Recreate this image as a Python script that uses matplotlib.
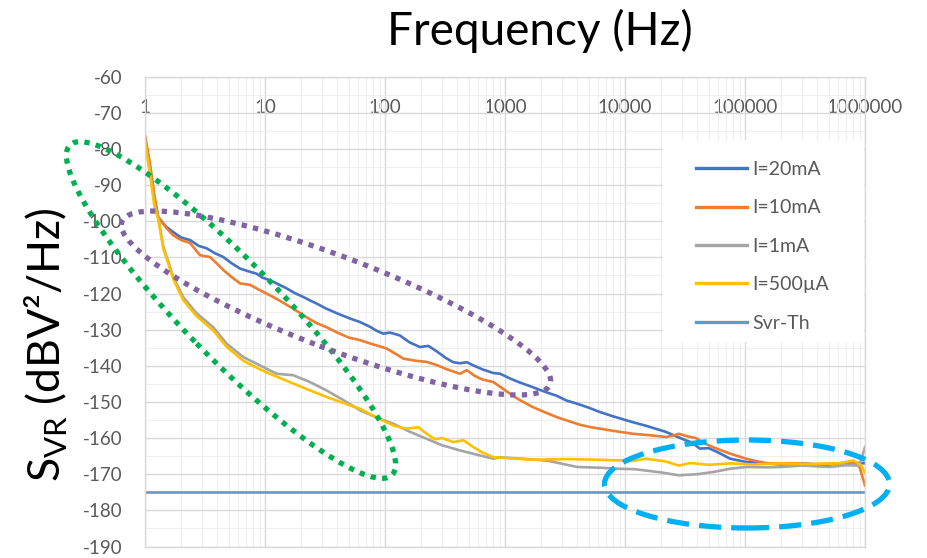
import matplotlib
matplotlib.use("Agg")
import matplotlib.pyplot as plt
from matplotlib.patches import Ellipse, Rectangle
from matplotlib.ticker import FixedLocator, NullFormatter
import numpy as np

plt.rcParams['font.family'] = ['Lato', 'DejaVu Sans']
plt.rcParams['mathtext.fontset'] = 'custom'
plt.rcParams['mathtext.rm'] = 'Lato'
plt.rcParams['axes.unicode_minus'] = False

# --- data ---
f_20ma = [1.0, 1.1, 1.2, 1.29, 1.5, 1.72, 2.0, 2.37, 2.8, 3.27, 3.8, 4.5, 5.2, 6.2, 7.2, 8.5,
          9.5, 11, 12.5, 15, 18, 21, 23.7, 27, 32.5, 40, 50, 62, 75, 85, 97, 110, 133, 160,
          195, 230, 270, 320, 370, 420, 480, 545, 650, 800, 912, 1100, 1300, 1700, 2200,
          2700, 3250, 4000, 5000, 6190, 8000, 11600, 15000, 22000, 28000, 32000, 36000,
          42000, 50000, 60000, 75000, 102000, 140000, 200000, 300000, 450000, 600000,
          800000, 1000000]
s_20ma = [-77, -85, -94, -99, -101.5, -103, -104.5, -105.2, -106.8, -107.5, -108.8, -109.9,
          -111.5, -113.1, -113.8, -114.5, -115.6, -116.3, -117.2, -118.5, -120.0, -121.0,
          -121.9, -122.8, -124.2, -125.5, -126.8, -127.9, -129.2, -130.3, -131.1, -130.8,
          -131.6, -133.5, -134.8, -134.5, -136.0, -137.8, -139.0, -139.3, -139.0, -139.9,
          -141.0, -142.0, -142.2, -143.5, -144.5, -145.9, -147.3, -148.3, -149.6, -150.5,
          -151.6, -152.8, -154.0, -155.6, -156.6, -158.3, -159.8, -160.6, -161.2, -162.9,
          -162.8, -164.0, -165.7, -166.6, -166.9, -167.3, -167.0, -167.5, -167.0, -166.8,
          -167.0]

f_10ma = [1.0, 1.1, 1.2, 1.29, 1.5, 1.72, 2.0, 2.37, 2.87, 3.48, 4.0, 4.5, 5.3, 6.2, 7.5,
          9.1, 11, 13, 17.2, 22, 27, 32.5, 40, 50, 62, 75, 90, 103, 120, 142, 180, 222,
          270, 330, 421, 480, 560, 650, 800, 1100, 1300, 1700, 2200, 2700, 3250, 4200,
          5200, 6190, 8000, 11600, 16000, 22000, 26000, 28000, 33000, 39000, 45000, 54000,
          75000, 102000, 130000, 160000, 250000, 400000, 600000, 800000, 900000, 1000000]
s_10ma = [-76.2, -84, -93, -98.8, -101.8, -103.9, -105.2, -106.0, -109.4, -109.9, -111.8,
          -113.5, -115.5, -117.2, -117.6, -119.1, -120.5, -121.8, -124.2, -126.5, -128.2,
          -129.3, -130.8, -132.2, -132.9, -133.8, -134.6, -135.2, -136.5, -138.0, -138.6,
          -138.9, -139.8, -141.0, -142.2, -141.2, -142.8, -143.8, -144.5, -147.7, -149.3,
          -151.4, -153.0, -154.2, -155.1, -156.3, -157.0, -157.4, -158.0, -158.8, -159.2,
          -159.7, -159.2, -158.8, -159.5, -160.0, -161.3, -162.5, -164.3, -165.7, -166.5,
          -167.1, -167.0, -167.2, -167.0, -166.8, -168.0, -173.1]

f_1ma = [1.0, 1.1, 1.2, 1.29, 1.42, 1.72, 2.08, 2.7, 3.7, 4.8, 6.6, 9.1, 12.5, 17.2, 23.7,
         32.5, 45, 62, 85, 117, 160, 222, 300, 421, 600, 800, 912, 1700, 2300, 4000, 6190,
         9000, 12000, 20000, 28000, 40000, 54000, 75000, 102000, 150000, 200000, 300000,
         500000, 700000, 900000, 1000000]
s_1ma = [-77.5, -86, -95, -99, -107, -115.4, -121, -125.5, -129.3, -133.9, -137.6, -139.9,
         -142.2, -142.6, -144.5, -146.8, -149.5, -152.3, -154.3, -156.0, -158.2, -160.2,
         -162.0, -163.4, -164.7, -165.7, -165.3, -165.9, -166.3, -168.0, -168.2, -168.5,
         -168.6, -169.5, -170.3, -170.0, -169.4, -168.5, -168.0, -168.1, -168.0, -167.6,
         -168.0, -167.5, -167.6, -162.5]

f_500ua = [1.0, 1.1, 1.2, 1.29, 1.42, 1.72, 2.08, 2.7, 3.7, 4.8, 6.6, 9.1, 12.5, 17.2, 23.7,
           32.5, 45, 62, 85, 117, 150, 190, 222, 260, 300, 370, 450, 545, 650, 800, 1100,
           1700, 3250, 6190, 11600, 15000, 22000, 28000, 35000, 50000, 75000, 120000,
           200000, 350000, 600000, 800000, 930000, 1000000]
s_500ua = [-78, -87, -96, -99.5, -107.5, -116, -121.8, -126.3, -130.2, -134.8, -138.6, -141.0,
           -143.0, -144.9, -146.8, -148.6, -150.3, -151.9, -154.3, -156.5, -157.4, -157.0,
           -158.8, -160.3, -160.0, -161.1, -160.6, -162.5, -164.0, -165.3, -165.6, -166.0,
           -165.8, -166.0, -166.3, -165.7, -166.5, -167.6, -166.9, -167.4, -167.0, -167.3,
           -167.0, -167.2, -167.0, -166.2, -167.6, -169.6]

f_th = [1, 1000000]
s_th = [-175, -175]

labels = ['I=20mA', 'I=10mA', 'I=1mA', 'I=500µA', 'Svr-Th']
colors = ['#4472C4', '#ED7D31', '#A5A5A5', '#FFC000', '#5B9BD5']

y_ticks = list(range(-190, -59, 10))
x_ticks = [1, 10, 100, 1000, 10000, 100000, 1000000]
x_ticklabels = ['1', '10', '100', '1000', '10000', '100000', '1000000']

# annotation outlines, in figure pixels: centre x, centre y (from top), width, height, angle, colour, style
marks = [
    (231, 310, 461, 96, -45.7, '#00B050', (0, (1, 1.2))),
    (336, 303, 458, 92, -20.8, '#8064A2', (0, (1, 1.2))),
    (747, 484, 285, 88, 0, '#00B0F0', (0, (4.2, 1.9))),
]

W, H = 928, 558
fig = plt.figure(figsize=(W / 100, H / 100), dpi=100)
ax = fig.add_axes([145 / W, 1 - 546.5 / H, 720 / W, (546.5 - 76.7) / H])

series = [(f_20ma, s_20ma), (f_10ma, s_10ma), (f_1ma, s_1ma), (f_500ua, s_500ua), (f_th, s_th)]
for (f, s), lab, c in zip(series, labels, colors):
    ax.plot(f, s, color=c, lw=1.9, label=lab, solid_joinstyle='round')

ax.set_xscale('log')
ax.set_xlim(1, 1e6)
ax.set_ylim(-190, -60)
ax.set_yticks(y_ticks)
ax.xaxis.set_major_locator(FixedLocator(x_ticks))
ax.set_xticklabels(x_ticklabels)
ax.xaxis.set_minor_formatter(NullFormatter())
ax.yaxis.set_minor_locator(FixedLocator(np.arange(-185, -60, 10)))

ax.grid(True, which='major', color='#d9d9d9', lw=1.0)
ax.grid(True, which='minor', color='#efefef', lw=0.8)
ax.set_axisbelow(True)
for sp in ax.spines.values():
    sp.set_color('#d9d9d9')
    sp.set_linewidth(1.0)

ax.tick_params(axis='both', which='both', length=0)
ax.tick_params(axis='y', labelsize=13.5, labelcolor='#595959', pad=16)
ax.tick_params(axis='x', labelsize=13.5, labelcolor='#595959', labeltop=True,
               labelbottom=False, pad=-28)

# white area behind the legend (hides the gridlines there)
ax.add_patch(Rectangle((663 / 100, (H - 342) / 100), 201 / 100, 202 / 100,
                       transform=fig.dpi_scale_trans, facecolor='white',
                       edgecolor='none', zorder=1.5))

leg = ax.legend(loc='upper left', bbox_to_anchor=(696 / W, 1 - 161 / H),
                bbox_transform=fig.transFigure, frameon=False, fontsize=14,
                handlelength=2.6, handletextpad=0.28, labelspacing=1.1,
                borderpad=0, borderaxespad=0)
for t in leg.get_texts():
    t.set_color('#595959')
for hl in leg.get_lines():
    hl.set_linewidth(2.4)

for cx, cy, w, h, ang, col, ls in marks:
    e = Ellipse((cx / 100, (H - cy) / 100), w / 100, h / 100, angle=ang,
                transform=fig.dpi_scale_trans, fill=False, edgecolor=col,
                lw=3.8, linestyle=ls, clip_on=False, zorder=10)
    fig.add_artist(e)

fig.text(540 / W, 1 - 31 / H, 'Frequency (Hz)', ha='center', va='center', fontsize=33)
fig.text(46 / W, 1 - 345 / H, r'S$_\mathrm{VR}$ (dBV²/Hz)', ha='center', va='center',
         rotation=90, fontsize=32)

fig.savefig('out.png', dpi=100)
